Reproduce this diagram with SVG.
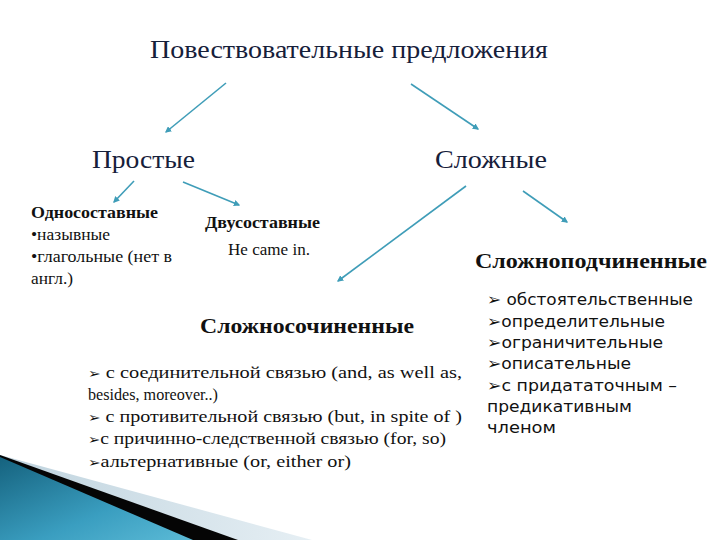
<svg xmlns="http://www.w3.org/2000/svg" width="720" height="540" viewBox="0 0 720 540">
<defs>
<marker id="ah" viewBox="0 0 10 10" refX="8" refY="5" markerWidth="4" markerHeight="4" orient="auto" markerUnits="strokeWidth">
<path d="M0,0 L10,5 L0,10 z" fill="#3f9db8"/>
</marker>
<linearGradient id="teal" x1="0" y1="0" x2="1" y2="1">
<stop offset="0" stop-color="#15627e"/>
<stop offset="0.6" stop-color="#3a9ec0"/>
<stop offset="1" stop-color="#5bbad6"/>
</linearGradient>
<linearGradient id="pale" x1="0" y1="0" x2="1" y2="0">
<stop offset="0" stop-color="#bfd3de"/>
<stop offset="1" stop-color="#e6eff4"/>
</linearGradient>
<style>
text{lengthAdjust:spacingAndGlyphs}
.serif{font-family:"Liberation Serif","Times New Roman",serif;fill:#111}
.title{font-size:26px;fill:#16203a}
.big{font-size:26px;fill:#16203a}
.b{font-weight:bold}
.sm{font-size:16px}
.mid{font-size:17.5px}
.sans{font-family:"DejaVu Sans","Noto Sans",sans-serif;font-size:16px;fill:#111}
.arr{stroke:#3f9db8;stroke-width:1.6;fill:none;marker-end:url(#ah)}
</style>
</defs>
<rect width="720" height="540" fill="#ffffff"/>
<g id="decor">
<polygon points="0,455 312,540 0,540" fill="url(#pale)"/>
<polygon points="0,455 238,540 0,540" fill="#050505"/>
<polygon points="0,457 193,540 0,540" fill="url(#teal)"/>
</g>
<g id="connectors">
<line class="arr" x1="226" y1="83" x2="166" y2="132"/>
<line class="arr" x1="411" y1="84" x2="478" y2="129"/>
<line class="arr" x1="134" y1="181" x2="114" y2="202"/>
<line class="arr" x1="183" y1="182" x2="239" y2="205"/>
<line class="arr" x1="466" y1="186" x2="338" y2="281"/>
<line class="arr" x1="523" y1="191" x2="567" y2="222"/>
</g>
<g id="root"><text class="serif title" x="150" y="58" textLength="398" lengthAdjust="spacingAndGlyphs">Повествовательные предложения</text></g>
<g id="simple"><text class="serif big" x="92" y="168" textLength="103" lengthAdjust="spacingAndGlyphs">Простые</text></g>
<g id="complex"><text class="serif big" x="435" y="168" textLength="112" lengthAdjust="spacingAndGlyphs">Сложные</text></g>
<g id="one-part">
<text class="serif sm b" x="31" y="218" textLength="127" lengthAdjust="spacingAndGlyphs">Односоставные</text>
<text class="serif sm" x="31" y="240" textLength="79" lengthAdjust="spacingAndGlyphs">•назывные</text>
<text class="serif sm" x="31" y="262" textLength="141" lengthAdjust="spacingAndGlyphs">•глагольные (нет в</text>
<text class="serif sm" x="31" y="284" textLength="42" lengthAdjust="spacingAndGlyphs">англ.)</text>
</g>
<g id="two-part">
<text class="serif sm b" x="205" y="228" textLength="115" lengthAdjust="spacingAndGlyphs">Двусоставные</text>
<text class="serif sm" x="228" y="255" textLength="82" lengthAdjust="spacingAndGlyphs">He came in.</text>
</g>
<g id="compound">
<text class="serif b" style="font-size:20px" x="200" y="333" textLength="214" lengthAdjust="spacingAndGlyphs">Сложносочиненные</text>
<text class="serif mid" x="88" y="378" textLength="374" lengthAdjust="spacingAndGlyphs"><tspan font-family="DejaVu Sans" font-size="13">➢</tspan> с соединительной связью (and, as well as,</text>
<text class="serif mid" x="88" y="400" textLength="130" lengthAdjust="spacingAndGlyphs">besides, moreover..)</text>
<text class="serif mid" x="88" y="422" textLength="374" lengthAdjust="spacingAndGlyphs"><tspan font-family="DejaVu Sans" font-size="13">➢</tspan> с противительной связью (but, in spite of )</text>
<text class="serif mid" x="88" y="444" textLength="358" lengthAdjust="spacingAndGlyphs"><tspan font-family="DejaVu Sans" font-size="13">➢</tspan>с причинно-следственной связью (for, so)</text>
<text class="serif mid" x="88" y="467" textLength="263" lengthAdjust="spacingAndGlyphs"><tspan font-family="DejaVu Sans" font-size="13">➢</tspan>альтернативные (or, either or)</text>
</g>
<g id="complex-sub">
<text class="serif b" style="font-size:20px" x="475" y="268" textLength="232" lengthAdjust="spacingAndGlyphs">Сложноподчиненные</text>
<text class="sans" x="487" y="305" textLength="206" lengthAdjust="spacingAndGlyphs">➢ обстоятельственные</text>
<text class="sans" x="487" y="327" textLength="178" lengthAdjust="spacingAndGlyphs">➢определительные</text>
<text class="sans" x="487" y="348" textLength="176" lengthAdjust="spacingAndGlyphs">➢ограничительные</text>
<text class="sans" x="487" y="369" textLength="144" lengthAdjust="spacingAndGlyphs">➢описательные</text>
<text class="sans" x="487" y="391" textLength="190" lengthAdjust="spacingAndGlyphs">➢с придататочным –</text>
<text class="sans" x="487" y="412" textLength="145" lengthAdjust="spacingAndGlyphs">предикативным</text>
<text class="sans" x="487" y="433" textLength="69" lengthAdjust="spacingAndGlyphs">членом</text>
</g>
</svg>
